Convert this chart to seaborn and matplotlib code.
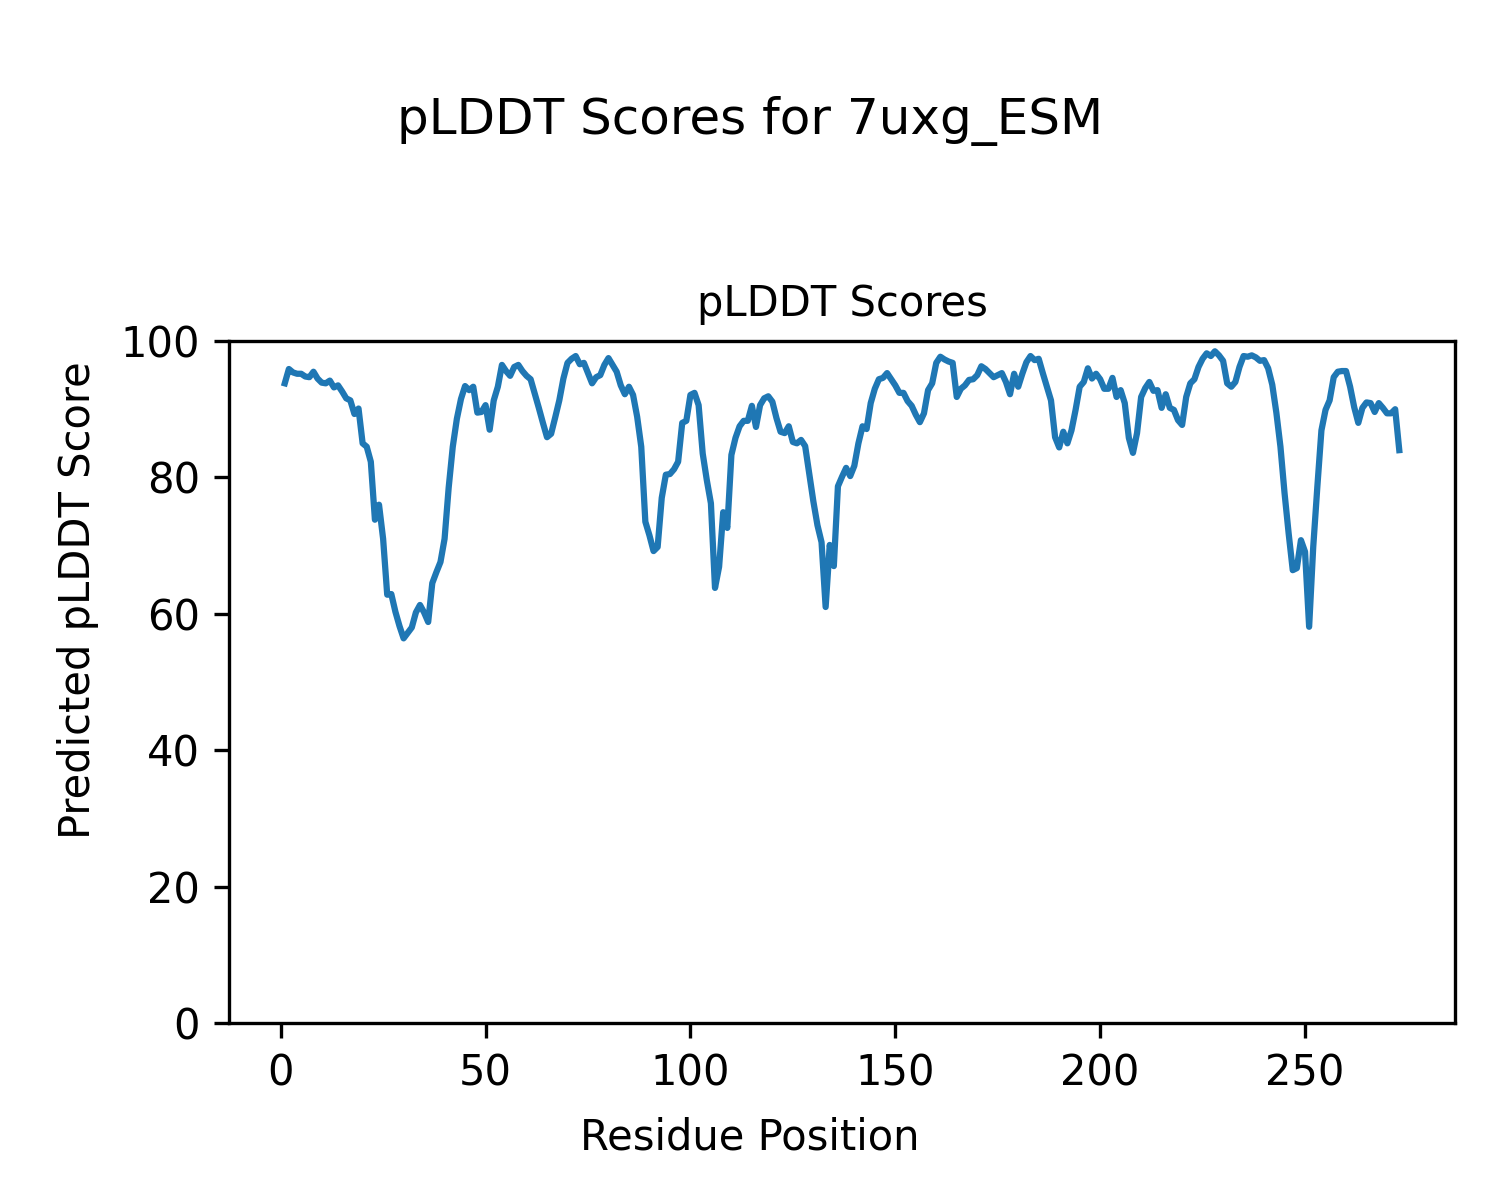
import numpy as np
import pandas as pd
import matplotlib
matplotlib.use("Agg")
import matplotlib.pyplot as plt
import seaborn as sns

# pLDDT por residuo 1..273
plddt = [
    93.8, 95.9, 95.4, 95.2, 95.2, 94.8, 94.7, 95.5, 94.5, 93.9,
    93.8, 94.2, 93.2, 93.5, 92.6, 91.6, 91.3, 89.3, 90.1, 85.0,
    84.5, 82.3, 73.8, 76.0, 71.0, 62.8, 62.9, 60.3, 58.2, 56.4,
    57.2, 58.0, 60.2, 61.3, 60.2, 58.8, 64.5, 66.1, 67.6, 71.0,
    78.5, 84.5, 88.6, 91.5, 93.4, 92.8, 93.3, 89.5, 89.6, 90.6,
    87.0, 91.3, 93.3, 96.5, 95.6, 94.9, 96.2, 96.5, 95.6, 94.9,
    94.4, 92.3, 90.2, 88.0, 85.9, 86.4, 88.8, 91.3, 94.5,
    96.8, 97.4, 97.8, 96.6, 96.8, 95.3, 93.8, 94.7, 95.0, 96.5,
    97.5, 96.5, 95.5, 93.5, 92.2, 93.3, 92.1, 88.9, 84.5, 73.5,
    71.5, 69.2, 69.8, 77.0, 80.4, 80.5, 81.2, 82.3, 88.0, 88.3,
    92.1, 92.4, 90.6, 83.5, 79.6, 76.2, 63.8, 66.9, 74.9, 72.6,
    83.3, 85.8, 87.5, 88.3, 88.3, 90.5, 87.4, 90.6, 91.6, 91.9,
    91.1, 88.7, 86.7, 86.5, 87.5, 85.2, 85.0, 85.5, 84.6, 80.6,
    76.5, 73.0, 70.5, 61.0, 70.1, 67.0, 78.7, 80.1, 81.4, 80.2,
    81.7, 85.0, 87.5, 87.1, 90.9, 93.0, 94.4, 94.6, 95.3, 94.4,
    93.5, 92.4, 92.4, 91.2, 90.5, 89.2, 88.1, 89.4, 92.8, 93.8,
    96.8, 97.7, 97.3, 97.0, 96.8, 91.8, 93.0, 93.5, 94.3, 94.4,
    95.0, 96.3, 95.9, 95.3, 94.7, 95.0, 95.3, 94.0, 92.2, 95.2,
    93.3, 95.2, 96.9, 97.8, 97.2, 97.4, 95.3, 93.3, 91.3, 85.9,
    84.4, 86.7, 85.0, 86.9, 89.9, 93.3, 94.0, 96.0, 94.5, 95.2,
    94.4, 93.0, 93.0, 94.6, 91.8, 92.8, 90.9, 85.8, 83.6, 86.5,
    91.8, 93.1, 94.0, 92.7, 92.8, 90.2, 92.2, 90.2, 89.9, 88.4,
    87.7, 91.8, 93.8, 94.4, 96.2, 97.4, 98.2, 97.8, 98.5, 97.9,
    97.1, 93.8, 93.3, 94.0, 96.2, 97.8, 97.7, 97.9, 97.6, 97.1,
    97.2, 96.0, 93.6, 89.5, 84.5, 77.7, 71.8, 66.4, 66.7, 70.8,
    69.1, 58.1, 69.8, 78.6, 86.9, 89.9, 91.3, 94.7, 95.5, 95.6,
    95.6, 93.3, 90.3, 88.0, 90.2, 91.0, 90.9, 89.6, 90.9, 90.2,
    89.4, 89.4, 90.0, 84.0,
]
residuos = list(range(1, len(plddt) + 1))

df = pd.DataFrame({"residuo": residuos, "plddt": plddt})

fig = plt.figure(figsize=(5, 4), dpi=300)
ax = fig.add_axes([0.1527, 0.1475, 0.8173, 0.5683])
sns.lineplot(data=df, x="residuo", y="plddt", ax=ax, color="#1f77b4", linewidth=1.5)
ax.set_ylim(0, 100)
ax.set_title("pLDDT Scores", fontsize=10)
ax.set_xlabel("")
ax.set_ylabel("")
fig.supxlabel("Residue Position", fontsize=10, x=0.5, y=0.052, va="center")
fig.supylabel("Predicted pLDDT Score", fontsize=10, x=0.052, y=0.5, va="center", ha="center")
fig.suptitle("pLDDT Scores for 7uxg_ESM", fontsize=12, y=0.92)
fig.savefig("out.png", dpi=300)
